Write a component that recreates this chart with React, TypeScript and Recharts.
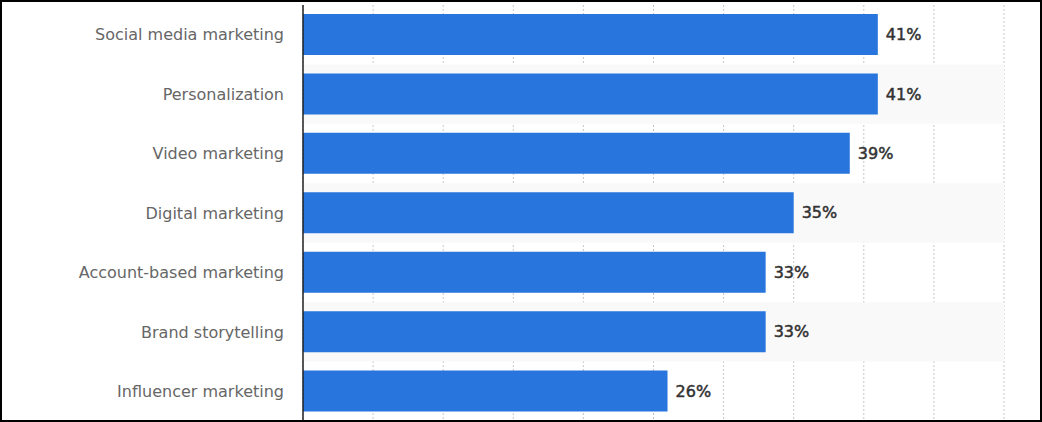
import React from 'react';
import { BarChart, Bar, XAxis, YAxis, CartesianGrid, LabelList, ReferenceArea } from 'recharts';

const categories = [
  'Social media marketing',
  'Personalization',
  'Video marketing',
  'Digital marketing',
  'Account-based marketing',
  'Brand storytelling',
  'Influencer marketing',
];
const values = [41, 41, 39, 35, 33, 33, 26];
const xTicks = [0, 5, 10, 15, 20, 25, 30, 35, 40, 45, 50];
const bandedRows = ['Personalization', 'Digital marketing', 'Brand storytelling'];

const data = categories.map((name, i) => ({ name, value: values[i] }));

export default function App() {
  return (
    <div style={{ position: 'absolute', left: 0, top: 0, width: 1042, height: 422, background: '#fff' }}>
      <BarChart
        width={1042}
        height={422}
        data={data}
        layout="vertical"
        margin={{ top: 5, right: 38, bottom: 1, left: 0 }}
      >
        {bandedRows.map((r) => (
          <ReferenceArea key={r} y1={r} y2={r} x1={0} x2={50} fill="#f9f9f9" fillOpacity={1} stroke="none" ifOverflow="visible" />
        ))}
        <CartesianGrid horizontal={false} stroke="#c8c8c8" strokeDasharray="2 2" />
        <XAxis type="number" domain={[0, 50]} ticks={xTicks} hide />
        <YAxis
          type="category"
          dataKey="name"
          width={303}
          tickLine={false}
          tickSize={0}
          tickMargin={19}
          axisLine={{ stroke: '#222', strokeWidth: 1.5 }}
          tick={{ fill: '#666', fontSize: 16, fontFamily: 'DejaVu Sans' }}
        />
        <Bar dataKey="value" fill="#2876dd" barSize={41} isAnimationActive={false}>
          <LabelList
            dataKey="value"
            position="right"
            offset={8}
            formatter={(v: any) => `${v}%`}
            style={{ fill: '#333', stroke: '#333', strokeWidth: 0.5, fontSize: 16, fontFamily: 'DejaVu Sans' }}
          />
        </Bar>
      </BarChart>
      <div style={{ position: 'absolute', left: 0, top: 0, width: 1042, height: 422, boxSizing: 'border-box', border: '2px solid #000', pointerEvents: 'none' }} />
    </div>
  );
}
